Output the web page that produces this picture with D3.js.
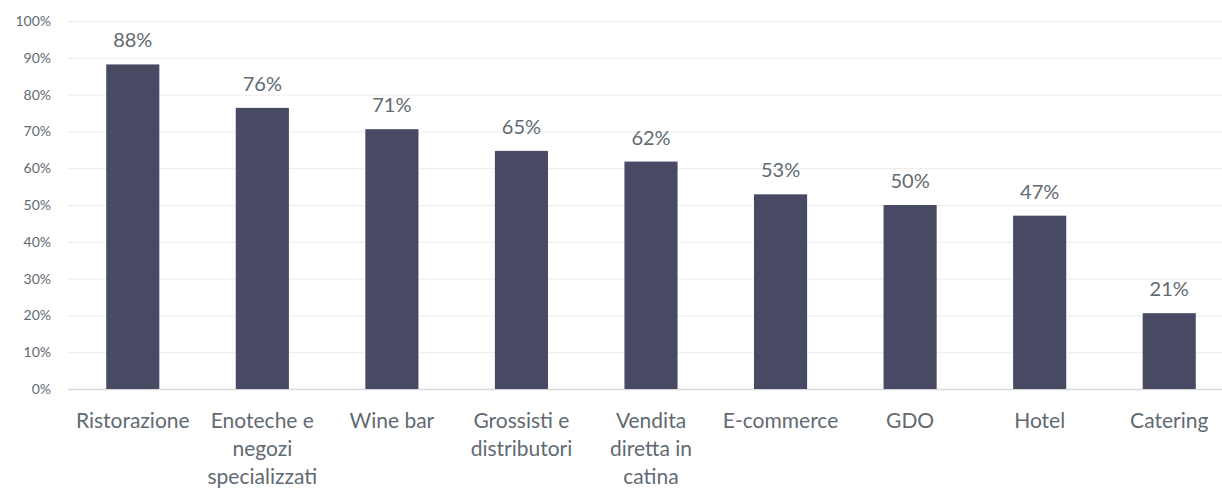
<!DOCTYPE html>
<html lang="it">
<head>
<meta charset="UTF-8">
<title>Canali di vendita</title>
<script src="https://d3js.org/d3.v7.min.js"></script>
<style>
    body { margin: 0; background: #fff; font-family: Lato, "Open Sans", sans-serif; }
    .tick text { fill: #616a72; }
</style>
</head>
<body>
<div id="chart"></div>
<script>
    // Dati
    var categories = ["Ristorazione", "Enoteche e negozi specializzati", "Wine bar", "Grossisti e distributori",
        "Vendita diretta in catina", "E-commerce", "GDO", "Hotel", "Catering"];
    var values = [88.2, 76.4, 70.6, 64.7, 61.8, 52.9, 50.0, 47.1, 20.6];
    var yTicks = [0, 10, 20, 30, 40, 50, 60, 70, 80, 90, 100];

    var width = 1222, height = 489;
    var margin = {top: 21, right: 0, bottom: 100, left: 68};
    var plotRight = 1234;

    var svg = d3.select("#chart").append("svg")
        .attr("width", width)
        .attr("height", height);

    var x = d3.scaleBand()
        .domain(categories)
        .range([margin.left, plotRight])
        .paddingInner(0.59)
        .paddingOuter(0.295);

    var y = d3.scaleLinear()
        .domain([0, 100])
        .range([389, margin.top]);

    // gridlines
    svg.append("g")
        .selectAll("line")
        .data(yTicks)
        .enter().append("line")
        .attr("x1", margin.left)
        .attr("x2", width)
        .attr("y1", function (d) { return y(d) + 0.5; })
        .attr("y2", function (d) { return y(d) + 0.5; })
        .attr("stroke", function (d) { return d === 0 ? "#d9d9d9" : "#ececec"; })
        .attr("stroke-width", function (d) { return d === 0 ? 1.5 : 1; });

    // y axis
    var yAxis = svg.append("g")
        .attr("transform", "translate(" + margin.left + ",0)")
        .call(d3.axisLeft(y).tickValues(yTicks).tickSize(0).tickPadding(17)
            .tickFormat(function (d) { return d + "%"; }));
    yAxis.select(".domain").remove();
    yAxis.selectAll("text")
        .style("font-size", "14px")
        .style("font-family", "Lato, sans-serif");

    // bars
    svg.append("g")
        .selectAll("rect")
        .data(values)
        .enter().append("rect")
        .attr("x", function (d, i) { return x(categories[i]); })
        .attr("y", function (d) { return y(d); })
        .attr("width", x.bandwidth())
        .attr("height", function (d) { return y(0) - y(d); })
        .attr("fill", "#474a62");

    // value labels
    svg.append("g")
        .selectAll("text")
        .data(values)
        .enter().append("text")
        .attr("x", function (d, i) { return x(categories[i]) + x.bandwidth() / 2; })
        .attr("y", function (d) { return y(d) - 17; })
        .attr("text-anchor", "middle")
        .attr("fill", "#616a72")
        .style("font-size", "20px")
        .text(function (d) { return Math.round(d) + "%"; });

    // x axis
    var xAxis = svg.append("g")
        .attr("transform", "translate(0,389)")
        .call(d3.axisBottom(x).tickSize(0));
    xAxis.select(".domain").remove();
    xAxis.selectAll("text")
        .style("font-size", "21px")
        .style("font-family", "Lato, sans-serif")
        .call(wrap, 112);

    // wrap category labels; baselines 39px below the axis, 28px apart
    function wrap(text, maxW) {
        text.each(function () {
            var t = d3.select(this),
                words = t.text().split(/\s+/),
                line = [],
                lineNo = 0;
            t.attr("dy", null).attr("y", null).text(null);
            var tspan = t.append("tspan").attr("x", 0).attr("y", 39);
            words.forEach(function (w) {
                line.push(w);
                tspan.text(line.join(" "));
                if (tspan.node().getComputedTextLength() > maxW && line.length > 1) {
                    line.pop();
                    tspan.text(line.join(" "));
                    line = [w];
                    lineNo++;
                    tspan = t.append("tspan").attr("x", 0).attr("y", 39 + lineNo * 28).text(w);
                }
            });
        });
    }
</script>
</body>
</html>
